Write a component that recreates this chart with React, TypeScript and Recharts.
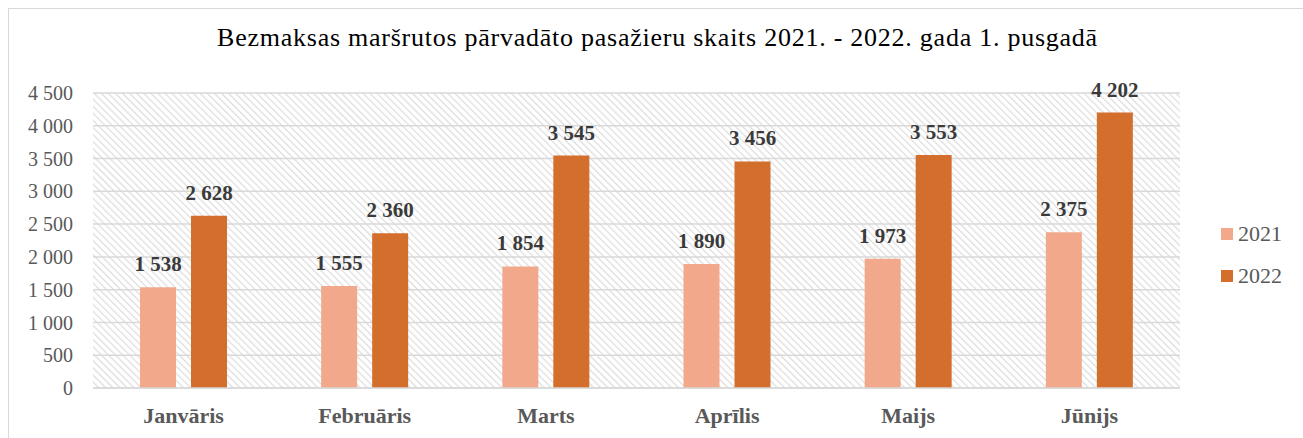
import React from "react";
import { BarChart, Bar, XAxis, YAxis, CartesianGrid, LabelList } from "recharts";

const months = ["Janvāris", "Februāris", "Marts", "Aprīlis", "Maijs", "Jūnijs"];
const values2021 = [1538, 1555, 1854, 1890, 1973, 2375];
const values2022 = [2628, 2360, 3545, 3456, 3553, 4202];
const yTicks = [0, 500, 1000, 1500, 2000, 2500, 3000, 3500, 4000, 4500];
const seriesNames = ["2021", "2022"];
const seriesColors = ["#F2A98B", "#D46E2D"];
const title = "Bezmaksas maršrutos pārvadāto pasažieru skaits 2021. - 2022. gada 1. pusgadā";

const data = months.map((m, i) => ({ month: m, y2021: values2021[i], y2022: values2022[i] }));

const fmt = (v: number) => String(v).replace(/\B(?=(\d{3})+(?!\d))/g, " ");
const fmtNb = (v: number) => String(v).replace(/\B(?=(\d{3})+(?!\d))/g, "\u00A0");

const serif = "'Liberation Serif', 'Times New Roman', serif";

export default function App() {
  const labelStyle = { fontFamily: serif, fontSize: 21, fontWeight: "bold", fill: "#3A3A3A" } as const;
  return (
    <div style={{ position: "relative", width: 1303, height: 438, overflow: "hidden", background: "#fff" }}>
      <style>{`body{margin:0;overflow:hidden}`}</style>
      <div style={{ position: "absolute", left: 8, top: 8, width: 1340, height: 480, border: "1px solid #D9D9D9" }} />
      <div style={{ position: "absolute", left: 0, top: 23, width: 1315, textAlign: "center", fontFamily: serif, fontSize: 26, letterSpacing: 0.75, color: "#000", whiteSpace: "nowrap" }}>
        {title}
      </div>
      <div style={{ position: "absolute", left: 0, top: 0 }}>
        <BarChart
          width={1303}
          height={438}
          data={data}
          margin={{ top: 93, right: 123, left: 13, bottom: 20 }}
          barSize={36}
          barGap={15}
        >
          <defs>
            <pattern id="hatch" patternUnits="userSpaceOnUse" width="5" height="5" patternTransform="rotate(-45)">
              <rect x="0" y="0" width="5" height="5" fill="#ffffff" />
              <rect x="0" y="0" width="1.2" height="5" fill="#DCDCDC" />
            </pattern>
          </defs>
          <CartesianGrid vertical={false} stroke="#D9D9D9" strokeWidth={1.5} fill="url(#hatch)" />
          <XAxis
            dataKey="month"
            axisLine={{ stroke: "#D9D9D9", strokeWidth: 1.5 }}
            tickLine={false}
            tickSize={0}
            tickMargin={19}
            height={30}
            tick={{ fontFamily: serif, fontSize: 22, fontWeight: "bold", fill: "#595959" }}
          />
          <YAxis
            domain={[0, 4500]}
            ticks={yTicks}
            interval={0}
            width={80}
            axisLine={false}
            tickLine={false}
            tickSize={0}
            tickMargin={20}
            tickFormatter={fmt}
            tick={{ fontFamily: serif, fontSize: 20, fill: "#595959" }}
          />
          <Bar dataKey="y2021" name={seriesNames[0]} fill={seriesColors[0]} isAnimationActive={false}>
            <LabelList dataKey="y2021" position="top" offset={16} formatter={fmtNb} style={labelStyle} />
          </Bar>
          <Bar dataKey="y2022" name={seriesNames[1]} fill={seriesColors[1]} isAnimationActive={false}>
            <LabelList dataKey="y2022" position="top" offset={16} formatter={fmtNb} style={labelStyle} />
          </Bar>
        </BarChart>
      </div>
      <div style={{ position: "absolute", left: 1221, top: 213, fontFamily: serif, fontSize: 22, color: "#595959" }}>
        {seriesNames.map((n, i) => (
          <div key={n} style={{ display: "flex", alignItems: "center", height: 42 }}>
            <span style={{ display: "inline-block", width: 12, height: 12, background: seriesColors[i], marginRight: 5 }} />
            <span>{n}</span>
          </div>
        ))}
      </div>
    </div>
  );
}
